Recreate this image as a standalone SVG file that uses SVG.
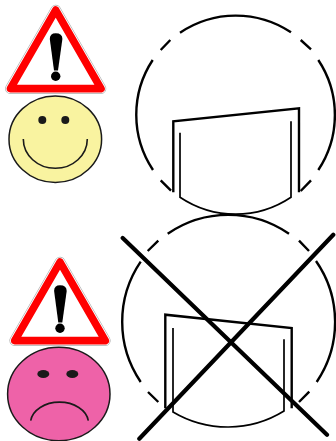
<svg xmlns="http://www.w3.org/2000/svg" width="336" height="441" viewBox="0 0 336 441">
<style>
.ln{fill:none;stroke:#000;stroke-linecap:butt}
.c{stroke-width:2.4}
.d{stroke-width:1.7}
.x{stroke-width:4.2;stroke-linecap:round}
.f{stroke:#1a1a1a;stroke-width:1.5}
.m{fill:none;stroke:#1a1a1a;stroke-width:1.6}
</style>
<defs>
<g id="warn">
<polygon points="55.7,10.1 101,88.6 10.4,88.6" fill="#fff" stroke="#aaa" stroke-width="10.6" stroke-linejoin="round"/>
<polygon points="55.7,10.1 101,88.6 10.4,88.6" fill="#fff" stroke="#fff" stroke-width="9.4" stroke-linejoin="round"/>
<polygon points="55.7,10.1 101,88.6 10.4,88.6" fill="#fff" stroke="#f00" stroke-width="7.6" stroke-linejoin="round"/>
<path d="M49.8 39Q49.8 33.3 55.7 33.3Q62.4 33.3 62.4 39L58 70.5H54Z" fill="#000"/>
<circle cx="55.7" cy="76.3" r="4.7" fill="#000"/>
</g>
</defs>
<g id="warning-top"><use href="#warn"/></g>
<g id="smiley">
<ellipse cx="55.3" cy="139.2" rx="46.3" ry="43.2" fill="#f9f3a0" class="f"/>
<circle cx="42.3" cy="120" r="4" fill="#1a1a1a"/>
<circle cx="65.3" cy="120" r="4" fill="#1a1a1a"/>
<path d="M23.3 139A32 29.3 0 0 0 87.3 139" class="m"/>
</g>
<g id="warning-bottom"><use href="#warn" x="4.3" y="252"/></g>
<g id="sad">
<ellipse cx="58.8" cy="394" rx="51.2" ry="46.7" fill="#ee62a8" class="f"/>
<ellipse cx="43.3" cy="374" rx="6" ry="4" fill="#1a1a1a"/>
<ellipse cx="72.3" cy="374" rx="6" ry="4" fill="#1a1a1a"/>
<path d="M30.7 420.7A29 21 0 0 1 88.3 420.7" class="m"/>
</g>
<g id="circle-top">
<path class="ln c" d="M180 32.7A99.5 99.5 0 0 1 291 32.3M160.7 50L170.3 40M152.7 60A99.5 99.5 0 0 0 153 170M160.7 180.3L171 190.7M300.7 191L311 180.3M318.3 170A99.5 99.5 0 0 0 318.3 60M300.7 40L311 49.3"/>
<path class="ln c" d="M173.3 192.3V121.3L299 108.3V192.3"/>
<path class="ln d" d="M180 132.7V197.3A99.5 99.5 0 0 0 291 197.3V121.3"/>
</g>
<g id="circle-bottom">
<path class="ln c" d="M167.7 233.7A107 107 0 0 1 289 233.7M147.7 251L158.3 240.7M140.7 261.7A107 107 0 0 0 140.7 382M148 392L158.3 402M299 402L309.3 391.7M316.7 382A107 107 0 0 0 316 261M299 240.7L309 251"/>
<path class="ln c" d="M165.3 408.3V314.7L291.7 328V408.3"/>
<path class="ln d" d="M173 328V412A107 107 0 0 0 284 411V339.3"/>
</g>
<g id="cross">
<path class="ln x" d="M122.7 238L327 434.7M333.3 234.7L139.3 438.7"/>
</g>
</svg>
